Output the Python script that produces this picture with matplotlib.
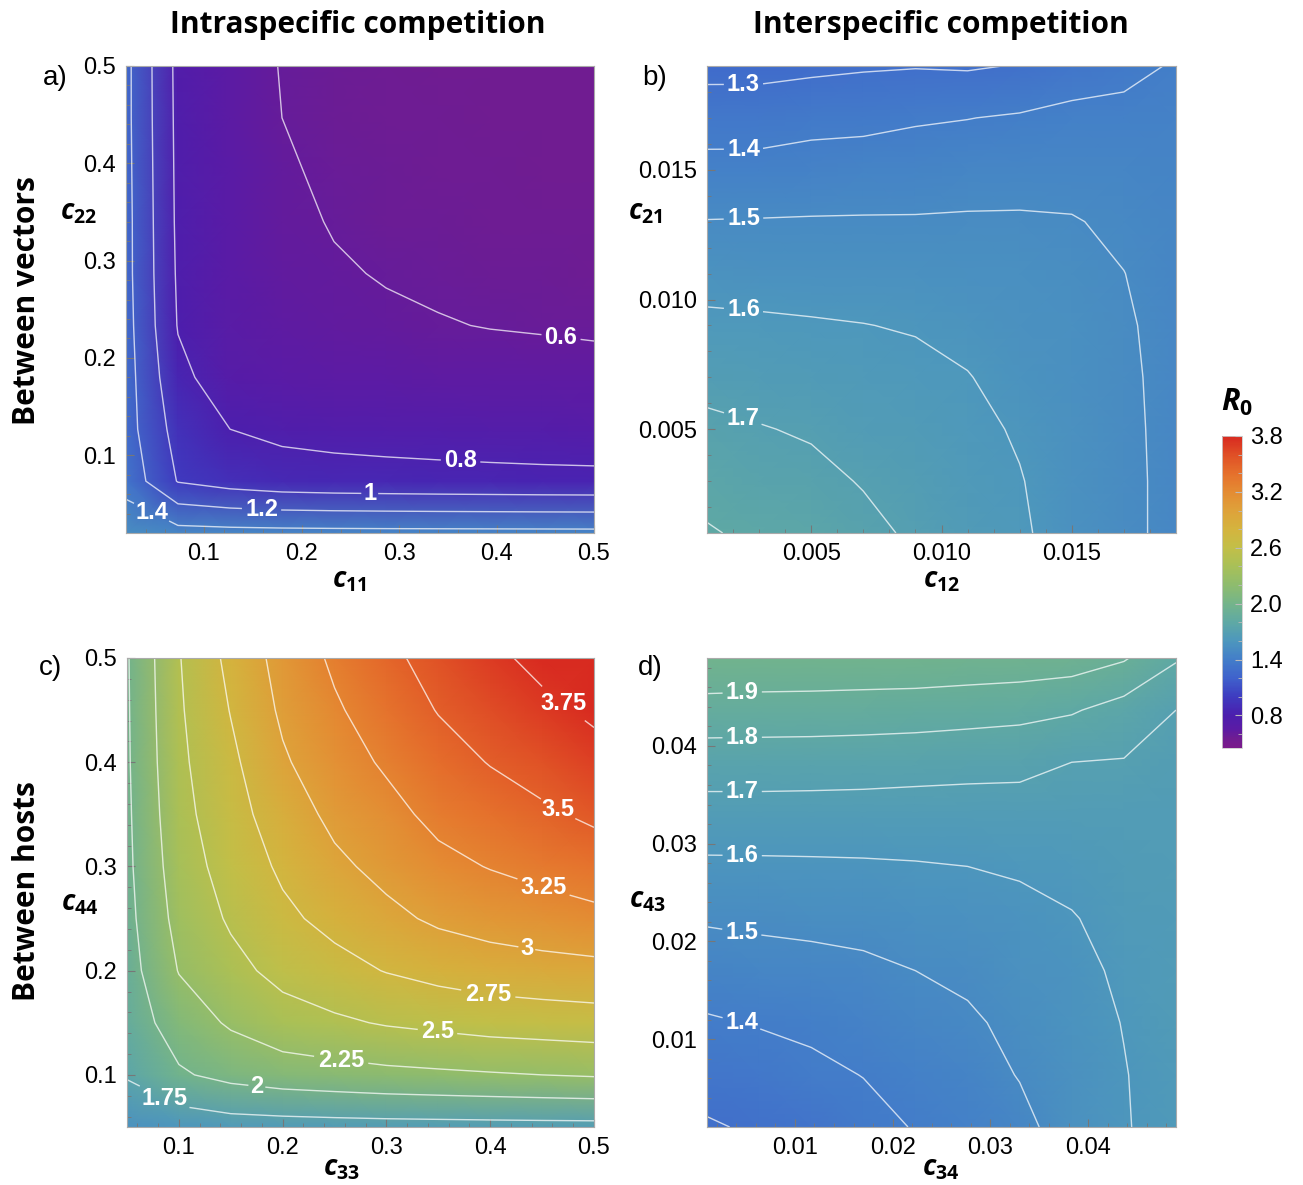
import numpy as np
import matplotlib
matplotlib.use("Agg")
import matplotlib.pyplot as plt
from matplotlib.colors import LinearSegmentedColormap, Normalize
from matplotlib.ticker import MultipleLocator, FixedLocator, FormatStrFormatter
from matplotlib.cm import ScalarMappable

plt.rcParams["mathtext.fontset"] = "custom"
plt.rcParams["mathtext.it"] = "Open Sans:italic:bold"
plt.rcParams["mathtext.rm"] = "Open Sans:bold"
plt.rcParams["mathtext.bf"] = "Open Sans:italic:bold"

a_c11 = [0.02, 0.0733, 0.1267, 0.18, 0.2333, 0.2867, 0.34, 0.3933, 0.4467, 0.5]
a_c22 = [0.02, 0.0733, 0.1267, 0.18, 0.2333, 0.2867, 0.34, 0.3933, 0.4467, 0.5]
a_R0 = [
    [1.53, 1.47, 1.46, 1.455, 1.452, 1.45, 1.449, 1.448, 1.447, 1.446],
    [1.33, 0.99, 0.92, 0.88, 0.865, 0.857, 0.85, 0.845, 0.84, 0.837],
    [1.28, 0.924, 0.80, 0.76, 0.745, 0.735, 0.728, 0.72, 0.715, 0.711],
    [1.28, 0.848, 0.70, 0.67, 0.655, 0.648, 0.643, 0.64, 0.637, 0.635],
    [1.27, 0.79, 0.68, 0.645, 0.625, 0.613, 0.605, 0.597, 0.592, 0.585],
    [1.26, 0.775, 0.67, 0.63, 0.608, 0.595, 0.585, 0.578, 0.573, 0.565],
    [1.26, 0.765, 0.665, 0.62, 0.595, 0.58, 0.57, 0.563, 0.558, 0.555],
    [1.255, 0.76, 0.66, 0.61, 0.585, 0.57, 0.562, 0.555, 0.55, 0.548],
    [1.25, 0.755, 0.657, 0.60, 0.578, 0.565, 0.557, 0.551, 0.547, 0.545],
    [1.25, 0.75, 0.655, 0.595, 0.57, 0.56, 0.553, 0.548, 0.545, 0.542],
]

b_c12 = [0.001, 0.003, 0.005, 0.007, 0.009, 0.011, 0.013, 0.015, 0.017, 0.019]
b_c21 = [0.001, 0.003, 0.005, 0.007, 0.009, 0.011, 0.013, 0.015, 0.017, 0.019]
b_R0 = [  # rows: c21 ascending, columns: c12 ascending
    [1.809, 1.779, 1.76, 1.725, 1.685, 1.65, 1.615, 1.555, 1.52, 1.476],
    [1.765, 1.745, 1.725, 1.694, 1.67, 1.64, 1.605, 1.553, 1.52, 1.476],
    [1.72, 1.705, 1.69, 1.663, 1.65, 1.625, 1.59, 1.55, 1.518, 1.475],
    [1.672, 1.66, 1.65, 1.632, 1.625, 1.603, 1.575, 1.545, 1.515, 1.474],
    [1.62, 1.615, 1.608, 1.602, 1.593, 1.58, 1.56, 1.54, 1.51, 1.472],
    [1.564, 1.56, 1.56, 1.555, 1.55, 1.545, 1.538, 1.525, 1.501, 1.468],
    [1.503, 1.505, 1.507, 1.508, 1.508, 1.51, 1.51, 1.505, 1.485, 1.46],
    [1.43, 1.43, 1.44, 1.445, 1.45, 1.46, 1.465, 1.47, 1.46, 1.45],
    [1.354, 1.355, 1.37, 1.375, 1.39, 1.398, 1.41, 1.43, 1.43, 1.435],
    [1.27, 1.27, 1.28, 1.29, 1.295, 1.29, 1.305, 1.34, 1.37, 1.41],
]

c_c33 = [0.05, 0.1, 0.15, 0.2, 0.25, 0.3, 0.35, 0.4, 0.45, 0.5]
c_c44 = [0.05, 0.1, 0.15, 0.2, 0.25, 0.3, 0.35, 0.4, 0.45, 0.5]
c_R0 = [
    [1.55, 1.60, 1.64, 1.65, 1.66, 1.667, 1.671, 1.675, 1.678, 1.68],
    [1.77, 1.97, 2.07, 2.13, 2.16, 2.19, 2.21, 2.23, 2.25, 2.27],
    [1.86, 2.12, 2.28, 2.40, 2.46, 2.52, 2.56, 2.60, 2.62, 2.64],
    [1.90, 2.26, 2.43, 2.57, 2.67, 2.76, 2.83, 2.88, 2.91, 2.93],
    [1.93, 2.33, 2.53, 2.70, 2.82, 2.94, 3.04, 3.10, 3.145, 3.19],
    [1.95, 2.38, 2.60, 2.79, 2.95, 3.07, 3.19, 3.26, 3.32, 3.38],
    [1.96, 2.42, 2.66, 2.87, 3.06, 3.18, 3.31, 3.39, 3.465, 3.54],
    [1.97, 2.45, 2.70, 2.97, 3.15, 3.28, 3.41, 3.51, 3.59, 3.67],
    [1.975, 2.47, 2.76, 3.04, 3.22, 3.37, 3.51, 3.61, 3.70, 3.79],
    [1.98, 2.487, 2.816, 3.087, 3.29, 3.45, 3.58, 3.70, 3.81, 3.89],
]

d_c34 = [0.001, 0.00633, 0.01167, 0.017, 0.02233, 0.02767, 0.033, 0.03833, 0.04367, 0.049]
d_c43 = [0.001, 0.00633, 0.01167, 0.017, 0.02233, 0.02767, 0.033, 0.03833, 0.04367, 0.049]
d_R0 = [
    [1.29, 1.313, 1.335, 1.37, 1.405, 1.43, 1.47, 1.55, 1.593, 1.64],
    [1.34, 1.36, 1.38, 1.402, 1.425, 1.455, 1.505, 1.555, 1.596, 1.64],
    [1.39, 1.405, 1.418, 1.435, 1.458, 1.485, 1.525, 1.563, 1.603, 1.642],
    [1.447, 1.46, 1.468, 1.48, 1.50, 1.52, 1.55, 1.575, 1.615, 1.645],
    [1.51, 1.518, 1.525, 1.532, 1.545, 1.56, 1.575, 1.595, 1.628, 1.65],
    [1.582, 1.583, 1.585, 1.588, 1.593, 1.60, 1.61, 1.625, 1.645, 1.655],
    [1.665, 1.665, 1.665, 1.663, 1.66, 1.658, 1.66, 1.658, 1.665, 1.665],
    [1.745, 1.745, 1.742, 1.74, 1.735, 1.73, 1.725, 1.70, 1.695, 1.68],
    [1.863, 1.86, 1.86, 1.855, 1.85, 1.84, 1.83, 1.81, 1.76, 1.70],
    [1.98, 1.975, 1.97, 1.97, 1.97, 1.965, 1.96, 1.95, 1.91, 1.81],
]

a_levels = [0.6, 0.8, 1.0, 1.2, 1.4]
a_labelled = [0.6, 0.8, 1.0, 1.2, 1.4]
b_levels = [1.3, 1.4, 1.5, 1.6, 1.7, 1.8]
b_labelled = [1.3, 1.4, 1.5, 1.6, 1.7]
c_levels = [1.75, 2.0, 2.25, 2.5, 2.75, 3.0, 3.25, 3.5, 3.75]
c_labelled = [1.75, 2.0, 2.25, 2.5, 2.75, 3.0, 3.25, 3.5, 3.75]
d_levels = [1.3, 1.4, 1.5, 1.6, 1.7, 1.8, 1.9]
d_labelled = [1.4, 1.5, 1.6, 1.7, 1.8, 1.9]

cbar_ticks = [0.8, 1.4, 2.0, 2.6, 3.2, 3.8]

# ---------------- style ----------------
VMIN, VMAX = 0.45, 3.8
nodes = [
    (0.45, "#7a1b8b"), (0.55, "#6f1c92"), (0.65, "#5b1ba5"), (0.8, "#4b1fae"),
    (1.0, "#3e3cc0"), (1.2, "#3f62cc"), (1.4, "#437ec9"), (1.6, "#4d97bd"),
    (1.8, "#5fa9a4"), (2.0, "#74b48a"), (2.2, "#8ebc6e"), (2.4, "#a8c058"),
    (2.6, "#c2bf48"), (2.8, "#d4b43e"), (3.0, "#dea23a"), (3.2, "#e48c33"),
    (3.4, "#e5702c"), (3.6, "#e05026"), (3.8, "#d82a20"),
]
cmap = LinearSegmentedColormap.from_list(
    "rainbow_m", [((v - VMIN) / (VMAX - VMIN), c) for v, c in nodes])
norm = Normalize(VMIN, VMAX)

W, H = 1303, 1185
fig = plt.figure(figsize=(W / 100, H / 100), dpi=100)


def fx(px):
    return px / W


def fy(py):
    return 1 - py / H


def box(l, r, t, b):
    return [fx(l), fy(b), fx(r) - fx(l), fy(t) - fy(b)]


LINE = dict(colors="white", linewidths=1.0, alpha=0.72)


def panel(rect, xs, ys, Z, levels, labelled, label_pos, lim, major, minor, fmt):
    ax = fig.add_axes(rect)
    X, Y = np.meshgrid(xs, ys)
    Z = np.array(Z)
    ax.pcolormesh(X, Y, Z, shading="gouraud", cmap=cmap, norm=norm)
    others = [v for v in levels if v not in labelled]
    if others:
        ax.contour(X, Y, Z, levels=others, **LINE)
    cs = ax.contour(X, Y, Z, levels=labelled, **LINE)
    texts = ax.clabel(cs, manual=label_pos, inline=True, inline_spacing=1,
                      fmt=lambda v: f"{v:g}", fontsize=17, colors="white")
    for t in texts:
        t.set_rotation(0)
        t.set_fontweight("bold")
        t.set_family("Liberation Sans")
        t.set_alpha(1)
    ax.set_xlim(lim)
    ax.set_ylim(lim)
    for axis in (ax.xaxis, ax.yaxis):
        axis.set_major_locator(FixedLocator(major))
        axis.set_minor_locator(MultipleLocator(minor))
        axis.set_major_formatter(FormatStrFormatter(fmt))
    ax.tick_params(which="both", direction="in", color="#777777", top=False, right=False)
    ax.tick_params(which="major", length=6, width=0.8, pad=7)
    ax.tick_params(which="minor", length=3, width=0.6)
    for lab in ax.get_xticklabels() + ax.get_yticklabels():
        lab.set_fontfamily("Liberation Sans")
        lab.set_fontsize(17)
    for s in ax.spines.values():
        s.set_color("#aaaaaa")
        s.set_linewidth(0.8)
    return ax


ax_a = panel(box(126, 594, 66, 533), a_c11, a_c22, a_R0, a_levels, a_labelled,
             [(0.466, 0.22), (0.363, 0.091), (0.27, 0.062), (0.159, 0.044), (0.045, 0.039)],
             (0.02, 0.5), [0.1, 0.2, 0.3, 0.4, 0.5], 0.02, "%.1f")
ax_b = panel(box(707, 1176, 66, 533), b_c12, b_c21, b_R0, b_levels, b_labelled,
             [(0.0024, 0.0183), (0.0024, 0.0158), (0.0024, 0.0131), (0.0024, 0.0096), (0.0024, 0.0055)],
             (0.001, 0.019), [0.005, 0.010, 0.015], 0.001, "%.3f")
ax_c = panel(box(127, 594, 658, 1127), c_c33, c_c44, c_R0, c_levels, c_labelled,
             [(0.467, 0.452), (0.464, 0.353), (0.451, 0.279), (0.435, 0.22), (0.398, 0.177),
              (0.349, 0.14), (0.256, 0.111), (0.175, 0.088), (0.084, 0.074)],
             (0.05, 0.5), [0.1, 0.2, 0.3, 0.4, 0.5], 0.02, "%.1f")
ax_d = panel(box(707, 1176, 658, 1127), d_c34, d_c43, d_R0, d_levels, d_labelled,
             [(0.0046, 0.0119), (0.0046, 0.0212), (0.0046, 0.0288), (0.0046, 0.0354),
              (0.0046, 0.0408), (0.0046, 0.0456)],
             (0.001, 0.049), [0.01, 0.02, 0.03, 0.04], 0.002, "%.2f")

# ---------------- texts ----------------
TITLE = dict(family="Open Sans", fontweight="bold", fontsize=21.5, ha="center", va="center")
fig.text(fx(358), fy(25), "Intraspecific competition", **TITLE)
fig.text(fx(941), fy(25), "Interspecific competition", **TITLE)
fig.text(fx(27), fy(301), "Between vectors", rotation=90, **TITLE)
fig.text(fx(27), fy(891), "Between hosts", rotation=90, **TITLE)

PL = dict(family="Liberation Sans", fontsize=20, ha="center", va="center")
fig.text(fx(55), fy(78), "a)", **PL)
fig.text(fx(655), fy(78), "b)", **PL)
fig.text(fx(50), fy(668), "c)", **PL)
fig.text(fx(650), fy(668), "d)", **PL)

LAB = dict(fontsize=20, ha="center", va="center")
fig.text(fx(349), fy(580), r"$\mathit{c}_{\mathit{11}}$", **LAB)
fig.text(fx(941), fy(580), r"$\mathit{c}_{\mathit{12}}$", **LAB)
fig.text(fx(341), fy(1168), r"$\mathit{c}_{\mathit{33}}$", **LAB)
fig.text(fx(941), fy(1168), r"$\mathit{c}_{\mathit{34}}$", **LAB)
fig.text(fx(78), fy(212), r"$\mathit{c}_{\mathit{22}}$", **LAB)
fig.text(fx(645), fy(212), r"$\mathit{c}_{\mathit{21}}$", **LAB)
fig.text(fx(80), fy(903), r"$\mathit{c}_{\mathit{44}}$", **LAB)
fig.text(fx(647), fy(900), r"$\mathit{c}_{\mathit{43}}$", **LAB)

# ---------------- colorbar ----------------
cax = fig.add_axes(box(1222, 1242, 436, 748))
cb = fig.colorbar(ScalarMappable(norm=norm, cmap=cmap), cax=cax, ticks=cbar_ticks)
cb.ax.set_yticklabels([f"{t:.1f}" for t in cbar_ticks])
cb.ax.yaxis.set_minor_locator(MultipleLocator(0.2))
cb.ax.tick_params(which="both", direction="in", color="#bbbbbb")
cb.ax.tick_params(which="major", length=5, pad=6)
cb.ax.tick_params(which="minor", length=3)
for lab in cb.ax.get_yticklabels():
    lab.set_fontfamily("Liberation Sans")
    lab.set_fontsize(17)
cb.outline.set_edgecolor("#cccccc")
cb.outline.set_linewidth(0.6)
fig.text(fx(1237), fy(402), r"$\mathit{R}_{\mathit{0}}$", fontsize=22, ha="center", va="center")

fig.savefig("out.png", dpi=100)
